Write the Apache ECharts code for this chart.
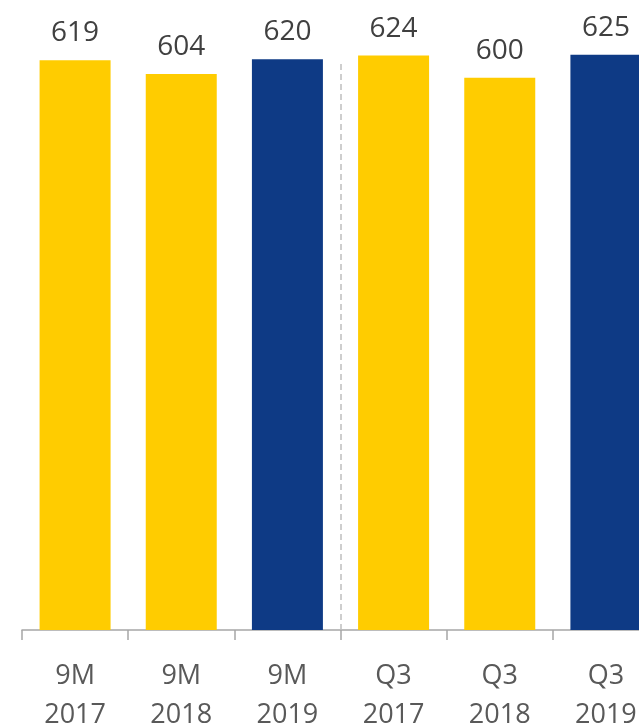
<!DOCTYPE html>
<html><head><meta charset="utf-8">
<script src="https://cdn.jsdelivr.net/npm/echarts@6/dist/echarts.min.js"></script>
<style>html,body{margin:0;padding:0;background:#fff}#c{width:639px;height:723px}</style>
</head><body><div id="c"></div>
<script>
const categories = ['9M\n2017','9M\n2018','9M\n2019','Q3\n2017','Q3\n2018','Q3\n2019'];
const values = [619, 604, 620, 624, 600, 625];
const highlight = [false, false, true, false, false, true];
const yellow = '#FFCC00', blue = '#0E3A85';
const font = '"Open Sans", sans-serif';

const chart = echarts.init(document.getElementById('c'));
chart.setOption({
  animation: false,
  grid: {left: 22, width: 637, top: 4, height: 626, outerBoundsMode: 'none', containLabel: false},
  xAxis: [{
    type: 'category', data: categories,
    axisLine: {lineStyle: {color: '#A6A6A6', width: 1.5}},
    axisTick: {show: true, length: 10, lineStyle: {color: '#A6A6A6', width: 1.5}},
    axisLabel: {color: '#595959', fontSize: 27, fontFamily: font, lineHeight: 39, margin: 27}
  }, {
    type: 'value', min: 0, max: 6, show: false
  }],
  yAxis: {type: 'value', min: 0, max: 680, show: false, splitLine: {show: false}},
  series: [{
    type: 'bar', barWidth: 71,
    data: values.map((v, i) => ({value: v, itemStyle: {color: highlight[i] ? blue : yellow}})),
    label: {show: true, position: 'top', distance: 13, color: '#404040', fontSize: 28, fontFamily: font}
  }, {
    type: 'line', xAxisIndex: 1, data: [], silent: true,
    markLine: {
      symbol: 'none', silent: true, label: {show: false},
      lineStyle: {color: '#BFBFBF', type: [6, 4], width: 1.5},
      data: [[{coord: [3, 0]}, {coord: [3, 615]}]]
    }
  }]
});
</script></body></html>
